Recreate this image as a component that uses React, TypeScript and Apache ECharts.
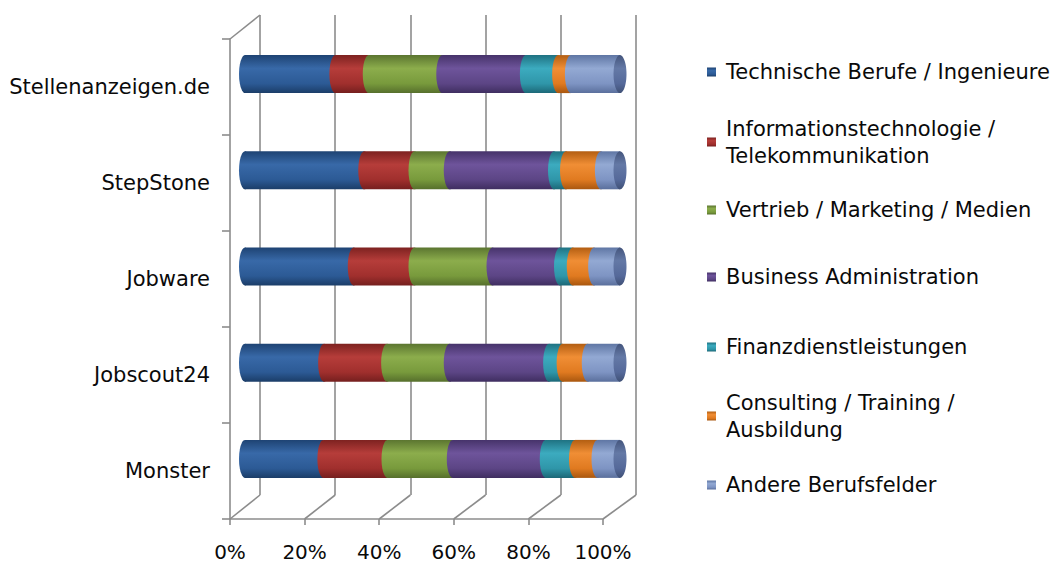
import React, { useEffect, useRef } from "react";
import * as echarts from "echarts";

// ---------- data ----------
const categories = ["Monster", "Jobscout24", "Jobware", "StepStone", "Stellenanzeigen.de"];
const seriesNames = [
  "Technische Berufe / Ingenieure",
  "Informationstechnologie /\nTelekommunikation",
  "Vertrieb / Marketing / Medien",
  "Business Administration",
  "Finanzdienstleistungen",
  "Consulting / Training /\nAusbildung",
  "Andere Berufsfelder",
];
// values (percent) in category order: Monster, Jobscout24, Jobware, StepStone, Stellenanzeigen.de
const technische = [20.9, 21.1, 29.0, 31.8, 24.1];
const informationstechnologie = [17.1, 16.8, 16.2, 13.4, 8.9];
const vertrieb = [17.4, 16.7, 20.8, 9.4, 19.6];
const business = [24.8, 26.5, 18.0, 27.8, 22.3];
const finanz = [7.8, 3.6, 3.4, 3.2, 8.6];
const consulting = [6.0, 6.7, 5.7, 9.3, 3.4];
const andere = [6.0, 8.6, 6.9, 5.1, 13.1];
const tickLabels = ["0%", "20%", "40%", "60%", "80%", "100%"];

const allValues = [technische, informationstechnologie, vertrieb, business, finanz, consulting, andere];

// ---------- styles ----------
const FONT = "DejaVu Sans";
const palettes = [
  ["#1e4373", "#3869a8", "#2c5a95", "#1b3d68"],
  ["#7d2220", "#b63d3a", "#a02f2d", "#751f1e"],
  ["#5b7530", "#8cad4c", "#789a3c", "#566f2c"],
  ["#46336a", "#6e549b", "#5c4585", "#3f2e60"],
  ["#1f7282", "#3cabbf", "#2f96a9", "#1c6877"],
  ["#b35e12", "#f08e35", "#e07a20", "#a9570f"],
  ["#5f76a4", "#93a9d3", "#7e94c3", "#5a6f9c"],
];
const capPalette = ["#44557c", "#6479a6", "#55699a", "#405176"];
const legendCenters = [72, 142, 210, 277, 347, 416, 485];

const GRID_BACK = { left: 260, top: 15, width: 376, height: 480 };
const GRID_FRONT = { left: 230, top: 39, width: 373, height: 480 };
const GRID_BARS = { left: 245, top: 26, width: 375, height: 481 };
const LINE_COLOR = "#8c8c8c";
const TEXT_COLOR = "#0a0a0a";

const grad = (c: string[]) =>
  new echarts.graphic.LinearGradient(0, 0, 0, 1, [
    { offset: 0, color: c[0] },
    { offset: 0.35, color: c[1] },
    { offset: 0.75, color: c[2] },
    { offset: 1, color: c[3] },
  ]);

export default function App() {
  const ref = useRef<HTMLDivElement>(null);
  useEffect(() => {
    if (!ref.current) return;
    const chart = echarts.init(ref.current, null, { renderer: "svg" });

    const bars = seriesNames.map((name, i) => ({
      type: "bar",
      name,
      stack: "total",
      xAxisIndex: 2,
      yAxisIndex: 2,
      barWidth: 38,
      data: allValues[i],
      itemStyle: { color: grad(palettes[i]) },
      silent: true,
      z: 3,
    }));

    // elliptic edges at the start of every segment (cylinder look)
    const edges = seriesNames.map((name, i) => ({
      type: "scatter",
      name: "edge-" + i,
      xAxisIndex: 2,
      yAxisIndex: 2,
      symbol: "circle",
      symbolSize: [12, 38],
      silent: true,
      z: 3,
      itemStyle: { color: grad(palettes[i]), opacity: 1 },
      data: categories.map((c, j) => {
        let s = 0;
        for (let k = 0; k < i; k++) s += allValues[k][j];
        return [s, c];
      }),
    }));

    const endCap = {
      type: "scatter",
      name: "end-cap",
      xAxisIndex: 2,
      yAxisIndex: 2,
      symbol: "circle",
      symbolSize: [13, 38],
      silent: true,
      z: 3,
      itemStyle: { color: grad(capPalette), opacity: 1 },
      data: categories.map((c, j) => [allValues.reduce((a, arr) => a + arr[j], 0), c]),
    };

    const legends = seriesNames.map((n, i) => {
      const multi = n.includes("\n");
      return {
        data: [n],
        orient: "vertical",
        left: 707,
        top: legendCenters[i] - (multi ? 40.5 : 13.5),
        padding: 0,
        itemWidth: 9,
        itemHeight: 9,
        icon: "rect",
        selectedMode: false,
        textStyle: {
          fontFamily: FONT,
          fontSize: 21,
          color: TEXT_COLOR,
          lineHeight: 27,
          padding: multi ? [27, 0, 0, 5] : [0, 0, 0, 5],
        },
      };
    });

    chart.setOption({
      animation: false,
      backgroundColor: "#ffffff",
      textStyle: { fontFamily: FONT },
      grid: [
        { ...GRID_BACK, containLabel: false },
        { ...GRID_FRONT, containLabel: false },
        { ...GRID_BARS, containLabel: false },
      ],
      xAxis: [
        {
          gridIndex: 0,
          type: "value",
          min: 0,
          max: 100,
          interval: 20,
          axisLine: { show: false },
          axisTick: { show: false },
          axisLabel: { show: false },
          splitLine: { show: true, lineStyle: { color: LINE_COLOR, width: 1.6 } },
        },
        {
          gridIndex: 1,
          type: "value",
          min: 0,
          max: 100,
          interval: 20,
          axisLine: { show: true, lineStyle: { color: LINE_COLOR, width: 1.6 } },
          axisTick: { show: true, length: 6, lineStyle: { color: LINE_COLOR, width: 1.6 } },
          axisLabel: {
            fontFamily: FONT,
            fontSize: 20,
            color: TEXT_COLOR,
            margin: 23,
            formatter: (v: number) => tickLabels[Math.round(v / 20)],
          },
          splitLine: { show: false },
        },
        {
          gridIndex: 2,
          type: "value",
          min: 0,
          max: 100,
          show: false,
        },
      ],
      yAxis: [
        { gridIndex: 0, type: "category", data: categories, show: false },
        {
          gridIndex: 1,
          type: "category",
          data: categories,
          axisLine: { show: true, lineStyle: { color: LINE_COLOR, width: 1.6 } },
          axisTick: { show: true, length: 8, lineStyle: { color: LINE_COLOR, width: 1.6 } },
          axisLabel: { fontFamily: FONT, fontSize: 21, color: TEXT_COLOR, margin: 20 },
          splitLine: { show: false },
        },
        { gridIndex: 2, type: "category", data: categories, show: false },
      ],
      legend: legends,
      series: [...bars, ...edges, endCap],
    });

    // 3D-frame diagonals joining the front axis frame and the back wall
    const ticks = [0, 20, 40, 60, 80, 100];
    const frontBottom = GRID_FRONT.top + GRID_FRONT.height;
    const backBottom = GRID_BACK.top + GRID_BACK.height;
    const lines: any[] = ticks.map((v) => {
      const xf = chart.convertToPixel({ xAxisIndex: 1 }, v) as number;
      const xb = chart.convertToPixel({ xAxisIndex: 0 }, v) as number;
      return {
        type: "line",
        shape: { x1: xf, y1: frontBottom, x2: xb, y2: backBottom },
        style: { stroke: LINE_COLOR, lineWidth: 1.6 },
        silent: true,
      };
    });
    lines.push({
      type: "line",
      shape: { x1: GRID_FRONT.left, y1: GRID_FRONT.top, x2: GRID_BACK.left, y2: GRID_BACK.top },
      style: { stroke: LINE_COLOR, lineWidth: 1.6 },
      silent: true,
    });
    chart.setOption({ graphic: lines });

    return () => chart.dispose();
  }, []);

  return (
    <div
      ref={ref}
      style={{ position: "absolute", left: 0, top: 0, width: 1054, height: 569 }}
    />
  );
}
